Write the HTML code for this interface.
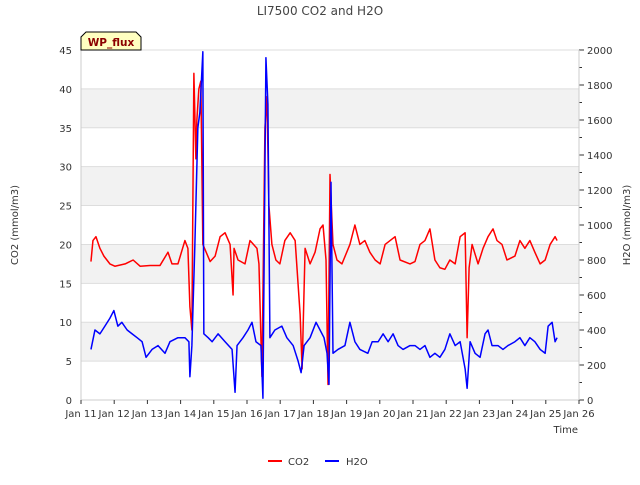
<!DOCTYPE html>
<html><head><meta charset="utf-8"><style>
body{margin:0;background:#fff;}
svg{font-family:"DejaVu Sans","Liberation Sans",sans-serif;}
</style></head><body>
<svg id="chart" width="640" height="480" xmlns="http://www.w3.org/2000/svg">
<text x="320" y="15" text-anchor="middle" font-size="12" fill="#444">LI7500 CO2 and H2O</text>
<g id="bands"></g><g id="grid"></g><g id="axes"></g><g id="series"></g>
<text x="18" y="225" font-size="10" fill="#333" text-anchor="middle" transform="rotate(-90 18 225)">CO2 (mmol/m3)</text>
<text x="630" y="225" font-size="10" fill="#333" text-anchor="middle" transform="rotate(-90 630 225)">H2O (mmol/m3)</text>
<text x="578" y="433" font-size="10" fill="#333" text-anchor="end">Time</text>
<g>
<path d="M81,50 L81,37 L86,32 L136,32 L141,37 L141,50 Z" fill="#ffffc0" stroke="#000" stroke-width="1"/>
<text x="111" y="46" font-size="10.5" font-weight="bold" fill="#8b0000" text-anchor="middle">WP_flux</text>
</g>
<g><line x1="268" y1="461" x2="282" y2="461" stroke="#f00" stroke-width="2"/><text x="288" y="465" font-size="10" fill="#333">CO2</text></g>
<g><line x1="325" y1="461" x2="339" y2="461" stroke="#00f" stroke-width="2"/><text x="346" y="465" font-size="10" fill="#333">H2O</text></g>
</svg>
<script>
const xTickLabels=["Jan 11","Jan 12","Jan 13","Jan 14","Jan 15","Jan 16","Jan 17","Jan 18","Jan 19","Jan 20","Jan 21","Jan 22","Jan 23","Jan 24","Jan 25","Jan 26"];
const leftTicks=[0,5,10,15,20,25,30,35,40,45];
const rightTicks=[0,200,400,600,800,1000,1200,1400,1600,1800,2000];
const co2Days=[0.30,0.36,0.45,0.57,0.69,0.87,1.02,1.33,1.57,1.78,2.08,2.38,2.62,2.74,2.92,3.13,3.22,3.28,3.34,3.40,3.46,3.49,3.55,3.61,3.67,3.77,3.89,4.04,4.19,4.34,4.49,4.58,4.61,4.73,4.94,5.09,5.30,5.36,5.45,5.54,5.60,5.66,5.75,5.87,5.99,6.14,6.30,6.45,6.60,6.66,6.75,6.90,7.05,7.20,7.29,7.38,7.44,7.50,7.59,7.71,7.86,8.10,8.25,8.40,8.55,8.70,8.86,9.01,9.16,9.31,9.46,9.61,9.91,10.06,10.21,10.36,10.51,10.66,10.81,10.96,11.11,11.27,11.42,11.57,11.63,11.69,11.78,11.96,12.11,12.26,12.41,12.53,12.68,12.83,13.07,13.22,13.37,13.52,13.67,13.83,13.98,14.13,14.28,14.34];
const co2Vals=[17.8,20.5,21,19.5,18.5,17.5,17.2,17.5,18,17.2,17.3,17.3,19,17.5,17.5,20.5,19.5,12,9,42,31,36,40,41,20,19,17.8,18.5,21,21.5,20,13.5,19.5,18,17.5,20.5,19.5,17.5,3,35,39,25,20,18,17.5,20.5,21.5,20.5,11,4,19.5,17.5,19,22,22.5,18,2,29,20,18,17.5,20,22.5,20,20.5,19,18,17.5,20,20.5,21,18,17.5,17.8,20,20.5,22,18,17,16.8,18,17.5,21,21.5,8,17,20,17.5,19.5,21,22,20.5,20,18,18.5,20.5,19.5,20.5,19,17.5,18,20,21,20.5];
const h2oDays=[0.30,0.42,0.57,0.72,0.87,0.99,1.11,1.23,1.39,1.54,1.69,1.84,1.96,2.14,2.32,2.53,2.68,2.92,3.13,3.25,3.28,3.34,3.43,3.52,3.58,3.67,3.70,3.83,3.95,4.13,4.34,4.55,4.64,4.70,4.88,5.03,5.15,5.27,5.42,5.48,5.57,5.63,5.69,5.84,6.05,6.20,6.39,6.54,6.63,6.72,6.90,7.08,7.20,7.32,7.41,7.47,7.53,7.59,7.74,7.95,8.10,8.25,8.40,8.64,8.77,8.95,9.10,9.25,9.40,9.55,9.70,9.91,10.06,10.21,10.36,10.51,10.66,10.81,10.96,11.11,11.27,11.42,11.57,11.63,11.72,11.87,12.02,12.17,12.26,12.38,12.56,12.71,12.86,13.07,13.22,13.37,13.52,13.67,13.83,13.98,14.07,14.19,14.28,14.34];
const h2oVals=[289,400,378,422,467,511,422,444,400,378,356,333,244,289,311,267,333,356,356,333,133,311,889,1556,1644,1990,378,356,333,378,333,289,44,311,356,400,444,333,311,10,1956,1689,356,400,422,356,311,222,156,311,356,444,400,356,267,89,1244,267,289,311,444,333,289,267,333,333,378,333,378,311,289,311,311,289,311,244,267,244,289,378,311,333,178,67,333,267,244,378,400,311,311,289,311,333,356,311,356,333,289,267,422,444,333,356];
const L=81,R=579,T=50,B=400,NS="http://www.w3.org/2000/svg";
const xS=d=>L+d*(R-L)/15, yL=v=>B-v*(B-T)/45, yR=v=>B-v*(B-T)/2000;
function mk(p,t,a){const e=document.createElementNS(NS,t);for(const k in a)e.setAttribute(k,a[k]);document.getElementById(p).appendChild(e);return e;}
for(let v=5;v<45;v+=10){const r=mk('bands','rect',{x:L,y:yL(v+5),width:R-L,height:yL(v)-yL(v+5),fill:'#f2f2f2'});

}
leftTicks.forEach(v=>{const g=mk('grid','line',{x1:L,x2:R,y1:yL(v),y2:yL(v),stroke:'#ddd','stroke-width':1});


const t=mk('axes','text',{x:L-9,y:yL(v)+4,'font-size':10,fill:'#333','text-anchor':'end'});t.textContent=v;

});
rightTicks.forEach(v=>{mk('axes','line',{x1:R,x2:R+5,y1:yR(v),y2:yR(v),stroke:'#333'});
const t=mk('axes','text',{x:R+8,y:yR(v)+4,'font-size':10,fill:'#333'});t.textContent=v;

});
for(let v=100;v<2000;v+=200)mk('axes','line',{x1:R,x2:R+3,y1:yR(v),y2:yR(v),stroke:'#333'});
mk('axes','line',{x1:L,x2:L,y1:T,y2:B,stroke:'#ccc'});mk('axes','line',{x1:R,x2:R,y1:T,y2:B,stroke:'#ccc'});
mk('axes','line',{x1:L,x2:R,y1:B,y2:B,stroke:'#ccc'});
xTickLabels.forEach((s,i)=>{mk('axes','line',{x1:xS(i),x2:xS(i),y1:B,y2:B+4,stroke:'#333'});
const t=mk('axes','text',{x:xS(i),y:B+17,'font-size':10,fill:'#333','text-anchor':'middle'});t.textContent=s;

});
const pc=mk('series','polyline',{points:co2Days.map((d,i)=>xS(d)+','+yL(co2Vals[i])).join(' '),fill:'none',stroke:'#f00','stroke-width':1.5,'stroke-linejoin':'round'});


const ph=mk('series','polyline',{points:h2oDays.map((d,i)=>xS(d)+','+yR(h2oVals[i])).join(' '),fill:'none',stroke:'#00f','stroke-width':1.5,'stroke-linejoin':'round'});


</script>
</body></html>
